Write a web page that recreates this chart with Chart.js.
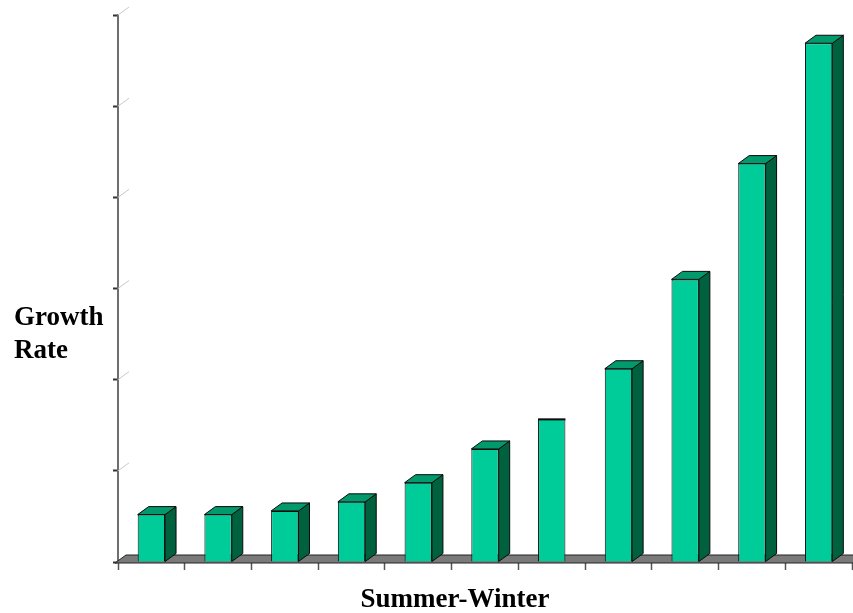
<!DOCTYPE html>
<html>
<head>
<meta charset="utf-8">
<script src="https://cdn.jsdelivr.net/npm/chart.js@4/dist/chart.umd.min.js"></script>
<style>
  html, body { margin: 0; padding: 0; background: #fff; }
  #wrap { width: 853px; height: 613px; position: relative; }
</style>
</head>
<body>
<div id="wrap"><canvas id="chartGrowth" width="853" height="613"></canvas></div>
<script>
// Data (no tick labels, so units are arbitrary: 6 axis divisions)
const categories = ["1", "2", "3", "4", "5", "6", "7", "8", "9", "10", "11"];
const growthValues = [0.52, 0.52, 0.56, 0.66, 0.87, 1.24, 1.57, 2.12, 3.10, 4.37, 5.69];
const yTitleLines = ["Growth", "Rate"];
const xTitle = "Summer-Winter";

const chartGrowth = document.getElementById("chartGrowth");

// depth of the fake 3D effect
const DX = 11;
const DY = -8;

// Grey floor drawn under the bars
const floorPlugin = {
    id: "floor",
    beforeDatasetsDraw(chart) {
        const { ctx, chartArea } = chart;
        const y0 = chart.scales.y.getPixelForValue(0);
        ctx.save();
        ctx.fillStyle = "#7a7a7a";
        ctx.strokeStyle = "#222";
        ctx.lineWidth = 1;
        ctx.beginPath();
        ctx.moveTo(chartArea.left - 3, y0 + 1);
        ctx.lineTo(chartArea.left - 3 + DX, y0 + 1 + DY);
        ctx.lineTo(chartArea.right + 2, y0 + 1 + DY);
        ctx.lineTo(chartArea.right + 2, y0 + 1);
        ctx.closePath();
        ctx.fill();
        ctx.stroke();

        // little back-wall stubs at each y tick
        ctx.strokeStyle = "#c8c8c8";
        chart.scales.y.ticks.forEach(t => {
            const py = chart.scales.y.getPixelForValue(t.value);
            if (t.value === 0) return;
            ctx.beginPath();
            ctx.moveTo(chartArea.left, py);
            ctx.lineTo(chartArea.left + DX, py + DY);
            ctx.stroke();
        });
        ctx.restore();
    }
};

// Side and top faces for each bar
const bars3dPlugin = {
    id: "bars3d",
    afterDatasetsDraw(chart) {
        const { ctx } = chart;
        const meta = chart.getDatasetMeta(0);
        ctx.save();
        ctx.lineWidth = 1;
        ctx.strokeStyle = "#0a0a0a";
        meta.data.forEach((bar, i) => {
            const half = bar.width / 2;
            const l = bar.x - half;
            const r = bar.x + half;
            const top = bar.y;
            const bottom = bar.base;

            if (i === 6) {
                // this one is drawn flat in the original
                ctx.beginPath();
                ctx.moveTo(l, top + 0.5);
                ctx.lineTo(r, top + 0.5);
                ctx.lineWidth = 2;
                ctx.stroke();
                ctx.lineWidth = 1;
                return;
            }

            // side
            ctx.fillStyle = "#00613f";
            ctx.beginPath();
            ctx.moveTo(r, top);
            ctx.lineTo(r + DX, top + DY);
            ctx.lineTo(r + DX, bottom + DY);
            ctx.lineTo(r, bottom);
            ctx.closePath();
            ctx.fill();
            ctx.stroke();

            // top
            ctx.fillStyle = "#009a6c";
            ctx.beginPath();
            ctx.moveTo(l, top);
            ctx.lineTo(l + DX, top + DY);
            ctx.lineTo(r + DX, top + DY);
            ctx.lineTo(r, top);
            ctx.closePath();
            ctx.fill();
            ctx.stroke();
        });
        ctx.restore();
    }
};

// Axis titles (horizontal y title, like the original)
const titlesPlugin = {
    id: "titles",
    afterDraw(chart) {
        const { ctx } = chart;
        ctx.save();
        ctx.fillStyle = "#000";
        ctx.font = "bold 27px 'Liberation Serif', 'Times New Roman', serif";
        ctx.textBaseline = "alphabetic";
        ctx.textAlign = "left";
        ctx.fillText(yTitleLines[0], 14, 325);
        ctx.fillText(yTitleLines[1], 14, 358);
        ctx.textAlign = "center";
        ctx.fillText(xTitle, 455, 607);
        ctx.restore();
    }
};

new Chart(chartGrowth, {
    type: "bar",
    data: {
        labels: categories,
        datasets: [{
            data: growthValues,
            backgroundColor: "#00cc99",
            borderColor: "#0a0a0a",
            borderWidth: 1,
            borderSkipped: "bottom",
            categoryPercentage: 1,
            barPercentage: 0.41
        }]
    },
    options: {
        responsive: false,
        animation: false,
        maintainAspectRatio: false,
        layout: { padding: { top: 15, right: 1, left: 0, bottom: 0 } },
        plugins: {
            legend: { display: false },
            tooltip: { enabled: false }
        },
        scales: {
            x: {
                grid: {
                    offset: true,
                    drawOnChartArea: false,
                    tickLength: 8,
                    color: "#555",
                    tickWidth: 1.5
                },
                border: { color: "#555", width: 2 },
                ticks: { display: false },
                afterFit: s => { s.height = 51; }
            },
            y: {
                min: 0,
                max: 6,
                grid: {
                    drawOnChartArea: false,
                    tickLength: 5,
                    color: "#333",
                    tickWidth: 2
                },
                border: { color: "#6e6e6e", width: 2 },
                ticks: { display: false, stepSize: 1 },
                afterFit: s => { s.width = 118; }
            }
        }
    },
    plugins: [floorPlugin, bars3dPlugin, titlesPlugin]
});
</script>
</body>
</html>
